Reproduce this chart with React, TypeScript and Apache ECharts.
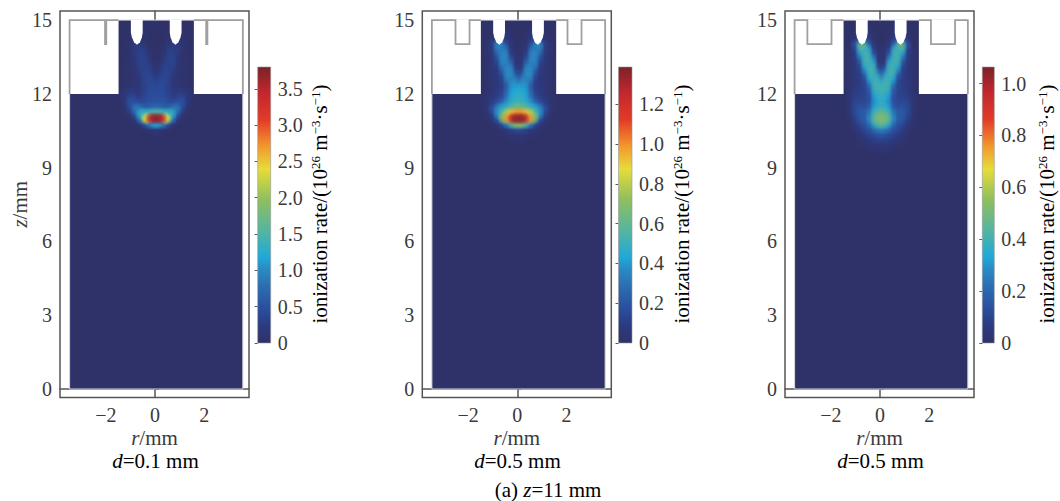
import React, { useEffect, useRef } from "react";
import * as echarts from "echarts";

// ---- axes and ticks
const rTicks = [-2, 0, 2];
const zTicks = [0, 3, 6, 9, 12, 15];
const rLimits = [-3.86, 3.82];
const zLimits = [-0.345, 15.37];

// ---- ionization rate, in 10^24 m^-3 s^-1. Rows: z. Columns: |r|.
const rCols = [0, 0.2, 0.4, 0.6, 0.8, 1.0, 1.2, 1.4];
const zRows = [14.6, 14.4, 14.2, 14.0, 13.8, 13.6, 13.4, 13.2, 13.0, 12.8, 12.6, 12.4, 12.2, 12.0, 11.8, 11.6, 11.4, 11.2, 11.0, 10.8, 10.6, 10.4, 10.2, 10.0, 9.8];

const rate50ns = [
  [0, 0, 0, 2, 2, 0, 0, 0],
  [0, 0, 0, 3, 3, 0, 0, 0],
  [0, 0, 1, 5, 6, 2, 0, 0],
  [0, 0, 2, 14, 24, 8, 0, 0],
  [0, 0, 6, 26, 24, 6, 0, 0],
  [0, 3, 12, 32, 18, 5, 0, 0],
  [0, 4, 20, 34, 13, 5, 1, 0],
  [2, 7, 28, 32, 10, 5, 2, 0],
  [3, 14, 34, 26, 9, 5, 2, 0],
  [7, 24, 36, 20, 9, 6, 2, 0],
  [16, 34, 36, 17, 9, 6, 3, 0],
  [28, 40, 32, 16, 10, 7, 3, 0],
  [38, 42, 32, 18, 13, 12, 6, 0],
  [44, 44, 34, 22, 16, 24, 16, 2],
  [47, 47, 38, 28, 24, 40, 18, 2],
  [52, 52, 44, 36, 46, 50, 11, 1],
  [74, 66, 60, 68, 85, 32, 5, 0],
  [150, 140, 130, 130, 55, 10, 2, 0],
  [370, 345, 235, 90, 16, 2, 0, 0],
  [115, 92, 50, 14, 2, 0, 0, 0],
  [14, 8, 3, 0, 0, 0, 0, 0],
  [2, 1, 0, 0, 0, 0, 0, 0],
  [0, 0, 0, 0, 0, 0, 0, 0],
  [0, 0, 0, 0, 0, 0, 0, 0],
  [0, 0, 0, 0, 0, 0, 0, 0],
];

const rate60ns = [
  [0, 0, 0, 2, 2, 0, 0, 0],
  [0, 0, 1, 4, 4, 1, 0, 0],
  [0, 0, 2, 8, 10, 3, 0, 0],
  [1, 1, 4, 18, 36, 10, 3, 0],
  [1, 2, 7, 30, 30, 8, 3, 0],
  [1, 3, 11, 36, 22, 7, 2, 0],
  [2, 4, 18, 36, 15, 6, 2, 0],
  [2, 6, 28, 32, 11, 5, 2, 0],
  [3, 11, 36, 24, 8, 5, 2, 0],
  [5, 20, 37, 16, 7, 5, 2, 0],
  [12, 32, 32, 12, 6, 4, 2, 0],
  [30, 38, 24, 10, 6, 4, 2, 0],
  [42, 40, 25, 11, 7, 4, 2, 0],
  [46, 43, 28, 13, 8, 5, 2, 1],
  [48, 45, 32, 18, 11, 7, 3, 1],
  [52, 48, 40, 28, 18, 10, 3, 1],
  [64, 60, 52, 44, 36, 18, 5, 1],
  [100, 95, 80, 62, 38, 12, 2, 0],
  [135, 130, 100, 70, 20, 5, 1, 0],
  [70, 60, 36, 16, 5, 1, 0, 0],
  [16, 12, 6, 3, 1, 0, 0, 0],
  [5, 4, 2, 1, 0, 0, 0, 0],
  [2, 1, 0, 0, 0, 0, 0, 0],
  [0, 0, 0, 0, 0, 0, 0, 0],
  [0, 0, 0, 0, 0, 0, 0, 0],
];

const rate685ns = [
  [0, 0, 0, 2, 2, 0, 0, 0],
  [0, 0, 1, 4, 5, 1, 0, 0],
  [0, 0, 2, 8, 14, 3, 0, 0],
  [0, 0, 4, 20, 46, 14, 0, 0],
  [1, 2, 9, 36, 38, 8, 2, 0],
  [1, 3, 16, 40, 28, 7, 2, 0],
  [1, 4, 28, 40, 18, 6, 2, 0],
  [2, 7, 37, 36, 12, 5, 2, 0],
  [3, 15, 40, 28, 9, 5, 2, 0],
  [5, 28, 39, 17, 8, 5, 2, 0],
  [16, 38, 32, 12, 7, 5, 2, 0],
  [32, 40, 23, 10, 7, 5, 2, 0],
  [40, 38, 18, 10, 8, 6, 2, 0],
  [38, 33, 15, 10, 8, 7, 3, 0],
  [36, 30, 14, 10, 9, 8, 4, 0],
  [36, 30, 15, 11, 11, 10, 4, 0],
  [38, 33, 19, 13, 14, 12, 4, 0],
  [46, 41, 25, 17, 16, 10, 3, 0],
  [52, 47, 29, 17, 15, 8, 2, 0],
  [44, 38, 22, 14, 10, 5, 1, 0],
  [26, 22, 15, 11, 7, 3, 0, 0],
  [15, 13, 10, 7, 4, 1, 0, 0],
  [9, 8, 6, 4, 2, 0, 0, 0],
  [5, 5, 3, 2, 1, 0, 0, 0],
  [2, 2, 1, 0, 0, 0, 0, 0],
];

// ---- colour scale
const colorStops: [number, string][] = [
  [0, "#2f3269"],
  [0.06, "#2c3a80"],
  [0.13, "#2a50a0"],
  [0.21, "#2b70b3"],
  [0.27, "#2a8cc4"],
  [0.31, "#1fa8da"],
  [0.39, "#4bb3aa"],
  [0.52, "#8fbf5e"],
  [0.63, "#e6dc3a"],
  [0.71, "#f39a2c"],
  [0.81, "#e33a28"],
  [0.91, "#c0272d"],
  [1, "#7a2228"],
];
const barTicks1 = [0, 0.5, 1.0, 1.5, 2.0, 2.5, 3.0, 3.5];
const barTicks2 = [0, 0.2, 0.4, 0.6, 0.8, 1.0, 1.2];
const barTicks3 = [0, 0.2, 0.4, 0.6, 0.8, 1.0];

// ---- electrode outlines (half, mirrored in r)
const notch1 = [[1.53, 15], [2.03, 15], [2.03, 14.02], [2.08, 14.02], [2.08, 15], [3.52, 15], [3.52, 12]];
const notch2 = [[1.53, 15], [1.99, 15], [1.99, 14.02], [2.56, 14.02], [2.56, 15], [3.52, 15], [3.52, 12]];
const notch3 = [[1.53, 15], [2.02, 15], [2.02, 14.02], [3.0, 14.02], [3.0, 15], [3.52, 15], [3.52, 12]];
const block = [[1.53, 15], [3.52, 15], [3.52, 12], [1.53, 12]];
const needle = [[0.55, 15], [0.55, 14.5], [0.58, 14.3], [0.66, 14.1], [0.78, 14.0], [0.9, 14.1], [0.99, 14.3], [1.03, 14.5], [1.03, 15]];
const domainHalf = 3.52;
const channelShift = 0.05;

const FONT = "Liberation Serif";
const INK = "#3a3a3a";

const panels = [
  { matrix: rate50ns, notch: notch1, max: 3.8, ticks: barTicks1, left: 60, barLeft: 257.7, barWidth: 13, time: "50", dist: "0.1", cx: 155, titleX: 320, z: true },
  { matrix: rate60ns, notch: notch2, max: 1.387, ticks: barTicks2, left: 422.3, barLeft: 618.5, barWidth: 13.5, time: "60", dist: "0.5", cx: 517, titleX: 681.7, z: false },
  { matrix: rate685ns, notch: notch3, max: 1.064, ticks: barTicks3, left: 785, barLeft: 982.3, barWidth: 12, time: "68.5", dist: "0.5", cx: 880, titleX: 1046.7, z: false },
];

function hex(c: string) {
  return [1, 3, 5].map((i) => parseInt(c.slice(i, i + 2), 16));
}
function colorAt(f: number): number[] {
  const t = Math.max(0, Math.min(1, f));
  for (let i = 1; i < colorStops.length; i++) {
    if (t <= colorStops[i][0]) {
      const [a, ca] = colorStops[i - 1];
      const [b, cb] = colorStops[i];
      const u = (t - a) / (b - a);
      const x = hex(ca), y = hex(cb);
      return x.map((v, k) => Math.round(v + (y[k] - v) * u));
    }
  }
  return hex(colorStops[colorStops.length - 1][1]);
}

function splats(matrix: number[][]) {
  const out: number[][] = [];
  matrix.forEach((row, i) =>
    row.forEach((v, j) => {
      if (v <= 0) return;
      out.push([rCols[j] + channelShift, zRows[i], v]);
      if (rCols[j] !== 0) out.push([-rCols[j] + channelShift, zRows[i], v]);
    })
  );
  return out.sort((a, b) => a[2] - b[2]);
}

function buildOption() {
  const grid: any[] = [], xAxis: any[] = [], yAxis: any[] = [], series: any[] = [], graphic: any[] = [];
  const sup = { fontFamily: FONT, fontSize: 13, color: INK, verticalAlign: "top", lineHeight: 22 };
  const reg = { fontFamily: FONT, fontSize: 21, color: INK, lineHeight: 22 };
  const ital = { ...reg, fontStyle: "italic" };
  const regT = { ...reg, lineHeight: 18 };
  const italT = { ...ital, lineHeight: 18 };

  panels.forEach((p, k) => {
    const g = k * 2, b = k * 2 + 1;
    grid.push({ left: p.left, top: 11, width: 189, height: 386.5, show: true, borderColor: "#555", borderWidth: 1.5, backgroundColor: "#fff" });
    xAxis.push({
      type: "value", gridIndex: g, min: rLimits[0], max: rLimits[1], splitLine: { show: false },
      axisLine: { lineStyle: { color: "#555", width: 1.5 } },
      axisTick: { inside: true, length: 4, customValues: rTicks, lineStyle: { color: "#444" } },
      axisLabel: { customValues: rTicks, margin: 7, fontFamily: FONT, fontSize: 20, color: INK, formatter: (v: number) => (v < 0 ? "\u2212" + -v : "" + v) },
      name: "{i|r}{n|/mm}", nameLocation: "middle", nameGap: 31, nameMoveOverlap: false,
      nameTextStyle: { rich: { i: italT, n: regT } },
    });
    yAxis.push({
      type: "value", gridIndex: g, min: zLimits[0], max: zLimits[1], splitLine: { show: false },
      axisLine: { lineStyle: { color: "#555", width: 1.5 } },
      axisTick: { inside: true, length: 4, customValues: zTicks, lineStyle: { color: "#444" } },
      axisLabel: { customValues: zTicks, margin: 8, fontFamily: FONT, fontSize: 20, color: INK },
      ...(p.z ? { name: "{i|z}{n|/mm}", nameLocation: "middle", nameGap: 31, nameRotate: 90, nameMoveOverlap: false, nameTextStyle: { rich: { i: italT, n: regT } } } : {}),
    });

    // domain background
    series.push({
      type: "custom", xAxisIndex: g, yAxisIndex: g, silent: true, clip: false,
      data: [[channelShift, 0]],
      encode: { x: 0, y: 1 },
      renderItem: (_: any, api: any) => {
        const a = api.coord([channelShift - domainHalf, 15]);
        const c = api.coord([channelShift + domainHalf, 0]);
        return { type: "rect", shape: { x: a[0], y: a[1], width: c[0] - a[0], height: c[1] - a[1] }, style: { fill: colorStops[0][1], stroke: "#d8d8d8", lineWidth: 1 } };
      },
    });
    // rate field
    series.push({
      type: "custom", xAxisIndex: g, yAxisIndex: g, silent: true, clip: false,
      data: splats(p.matrix),
      encode: { x: 0, y: 1 },
      renderItem: (_: any, api: any) => {
        const c = api.coord([api.value(0), api.value(1)]);
        const s = api.size([0.2, 0.2]);
        const [r0, g0, b0] = colorAt(api.value(2) / 100 / p.max);
        return {
          type: "circle",
          shape: { cx: c[0], cy: c[1], r: s[0] * 1.4 },
          style: {
            fill: new echarts.graphic.RadialGradient(0.5, 0.5, 0.5, [
              { offset: 0, color: `rgba(${r0},${g0},${b0},1)` },
              { offset: 0.45, color: `rgba(${r0},${g0},${b0},0.7)` },
              { offset: 1, color: `rgba(${r0},${g0},${b0},0)` },
            ]),
          },
        };
      },
    });
    // white blocks, needles, electrode outline
    const mirror = (pts: number[][]) => pts.map(([r, z]) => [channelShift - r, z]);
    const shift = (pts: number[][]) => pts.map(([r, z]) => [channelShift + r, z]);
    const fills = [shift(block), mirror(block), shift(needle), mirror(needle)];
    series.push({
      type: "custom", xAxisIndex: g, yAxisIndex: g, silent: true, clip: false,
      data: fills.map((f) => f[0]),
      encode: { x: 0, y: 1 },
      renderItem: (pa: any, api: any) => ({
        type: "polygon",
        shape: { points: fills[pa.dataIndex].map((q) => api.coord(q)) },
        style: { fill: "#ffffff" },
      }),
    });
    const lines = [shift(p.notch), mirror(p.notch)];
    series.push({
      type: "custom", xAxisIndex: g, yAxisIndex: g, silent: true, clip: false,
      data: lines.map((f) => f[0]),
      encode: { x: 0, y: 1 },
      renderItem: (pa: any, api: any) => ({
        type: "polyline",
        shape: { points: lines[pa.dataIndex].map((q) => api.coord(q)) },
        style: { fill: "none", stroke: "#a0a0a0", lineWidth: 1.8 },
      }),
    });

    // colour bar
    grid.push({ left: p.barLeft, top: 67, width: p.barWidth, height: 276, show: false });
    xAxis.push({ type: "value", gridIndex: b, min: 0, max: 1, show: false });
    yAxis.push({
      type: "value", gridIndex: b, position: "right", min: 0, max: p.max, splitLine: { show: false },
      axisLine: { show: false },
      axisTick: { inside: true, length: 3, customValues: p.ticks, lineStyle: { color: "#555" } },
      axisLabel: { customValues: p.ticks, margin: 7, fontFamily: FONT, fontSize: 20, color: INK, formatter: (v: number) => (v === 0 ? "0" : v.toFixed(1)) },
    });
    series.push({
      type: "custom", xAxisIndex: b, yAxisIndex: b, silent: true, clip: false, z: 1,
      data: [[0, 0]],
      encode: { x: 0, y: 1 },
      renderItem: (_: any, api: any) => {
        const a = api.coord([0, p.max]);
        const c = api.coord([1, 0]);
        return {
          type: "rect",
          shape: { x: a[0], y: a[1], width: c[0] - a[0], height: c[1] - a[1] },
          style: {
            fill: new echarts.graphic.LinearGradient(0, 1, 0, 0, colorStops.map(([offset, color]) => ({ offset, color }))),
            stroke: "#999", lineWidth: 0.6,
          },
        };
      },
    });

    // texts
    graphic.push({
      type: "text", x: p.cx + 0.5, y: 367,
      style: { text: `{i|t}{n|=${p.time} ns}`, textAlign: "center", textVerticalAlign: "middle", rich: { i: { ...italT, fontSize: 20, color: "#f5e616" }, n: { ...regT, fontSize: 20, color: "#f5e616" } } },
    });
    graphic.push({
      type: "text", x: p.cx + 0.5, y: 461,
      style: { text: `{i|d}{n|=${p.dist} mm}`, textAlign: "center", textVerticalAlign: "middle", rich: { i: italT, n: regT } },
    });
    graphic.push({
      type: "text", x: p.titleX, y: 204, rotation: Math.PI / 2,
      style: {
        text: "{n|ionization rate/(10}{s|26}{n| m}{s|\u22123}{n|\u00b7s}{s|\u22121}{n|)}",
        textAlign: "center", textVerticalAlign: "middle", rich: { n: reg, s: sup },
      },
    });
  });
  graphic.push({
    type: "text", x: 548, y: 490,
    style: { text: "{n|(a) }{i|z}{n|=11 mm}", textAlign: "center", textVerticalAlign: "middle", rich: { i: italT, n: regT } },
  });

  return { animation: false, backgroundColor: "#ffffff", grid, xAxis, yAxis, series, graphic };
}

export default function App() {
  const ref = useRef<HTMLDivElement>(null);
  useEffect(() => {
    const chart = echarts.init(ref.current!, undefined, { renderer: "svg" });
    chart.setOption(buildOption() as any);
    return () => chart.dispose();
  }, []);
  return <div ref={ref} style={{ position: "fixed", left: 0, top: 0, width: 1060, height: 501 }} />;
}
